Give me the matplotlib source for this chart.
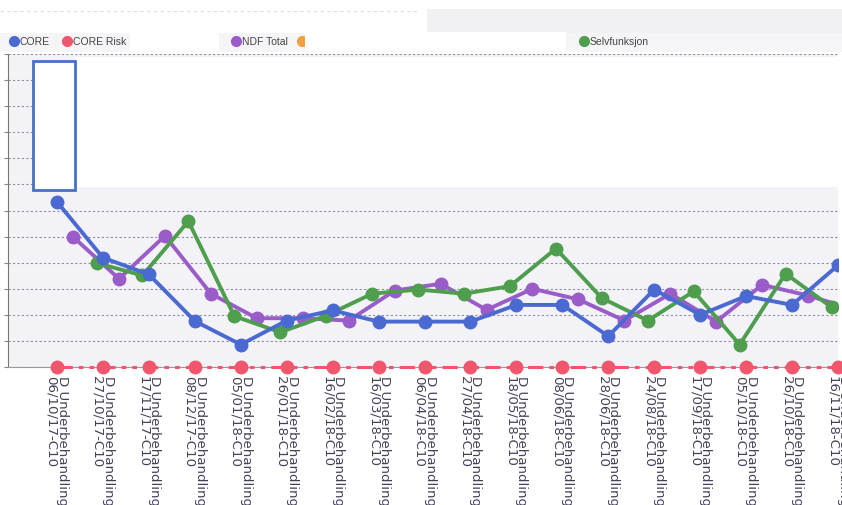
import numpy as np
import matplotlib.pyplot as plt
from matplotlib.patches import Rectangle
from matplotlib.lines import Line2D

# datoer for behandlingene (kategoriaksen)
dates = ['06/10/17', '27/10/17', '17/11/17', '08/12/17', '05/01/18', '26/01/18',
         '16/02/18', '16/03/18', '06/04/18', '27/04/18', '18/05/18', '08/06/18',
         '28/06/18', '24/08/18', '17/09/18', '05/10/18', '26/10/18', '16/11/18']
labels = [f"D Underbehandling\n{d}-C10" for d in dates]

core = [6.33, 4.19, 3.55, 1.76, 0.86, 1.78, 2.17, 1.74, 1.74, 1.74,
        2.38, 2.38, 1.18, 2.97, 2.00, 2.72, 2.38, 3.90]
core_risk = [0] * 18
ndf_total = [4.99, 3.38, 5.03, 2.81, 1.87, 1.87, 1.78, 2.93, 3.19, 2.19,
             3.00, 2.59, 1.78, 2.81, 1.74, 3.15, 2.74, 2.20]
# Selvfunksjon starter ved andre behandling
selv = [3.99, 3.51, 5.59, 1.95, 1.33, 1.97, 2.81, 2.97, 2.81,
        3.10, 4.54, 2.64, 1.78, 2.90, 0.86, 3.58, 2.29]

C_CORE = '#4a6ad2'
C_RISK = '#f0566c'
C_NDF = '#9a5cc8'
C_SELV = '#4e9e4e'

W, H = 842, 506


def px(x, y):
    return x / W, 1 - y / H


fig = plt.figure(figsize=(W / 100, H / 100), dpi=100, facecolor='w')
ax = fig.add_axes([8 / W, 1 - 368 / H, 830 / W, 313 / H])
ax.set_facecolor('#f3f3f7')

idx = np.arange(len(dates))
ax.plot(idx, core, color=C_CORE, lw=2.8, marker='o', ms=9, zorder=4)
ax.plot(idx + 0.35, ndf_total, color=C_NDF, lw=2.8, marker='o', ms=9, zorder=3)
ax.plot(idx[1:] - 0.14, selv, color=C_SELV, lw=2.8, marker='o', ms=9, zorder=3)
ax.plot(idx, core_risk, color=C_RISK, lw=2.2, dashes=(5, 2, 1.5, 2, 1.5, 2),
        marker='o', ms=9, zorder=5, clip_on=False)

ax.set_xlim(-1.067, 17.0)
ax.set_ylim(0, 12)
ax.set_yticks(np.arange(0, 13))
ax.set_yticklabels([])
ax.tick_params(axis='y', length=3, color='#888888')
ax.grid(axis='y', color='#8f8fa0', lw=0.8, ls=(0, (2, 2)))
ax.set_xticks(idx)
ax.set_xticklabels(labels, rotation=-90, fontsize=9.6, color='#45405a',
                   linespacing=0.8, multialignment='left')
ax.tick_params(axis='x', length=0, pad=6)
for s in ['top', 'right']:
    ax.spines[s].set_visible(False)
ax.spines['left'].set_color('#777777')
ax.spines['bottom'].set_color('#999999')

# overdekning (sladding) øverst i plottet
x0, y0 = px(75, 188)
x1, y1 = px(842, 58)
fig.add_artist(Rectangle((x0, y0), x1 - x0, y1 - y0, transform=fig.transFigure,
                         fc='w', ec='none', zorder=2))
x0, y0 = px(33, 191)
x1, y1 = px(75, 62)
fig.add_artist(Rectangle((x0, y0), x1 - x0, y1 - y0, transform=fig.transFigure,
                         fc='w', ec='#4472c4', lw=2, zorder=3))

# topp-bakgrunn og legende
x0, y0 = px(0, 53)
x1, y1 = px(842, 34)
fig.add_artist(Rectangle((x0, y0), x1 - x0, y1 - y0, transform=fig.transFigure,
                         fc='#f5f5f7', ec='none', zorder=1))
x0, y0 = px(427, 34)
x1, y1 = px(842, 10)
fig.add_artist(Rectangle((x0, y0), x1 - x0, y1 - y0, transform=fig.transFigure,
                         fc='#f1f1f4', ec='none', zorder=1))
fig.add_artist(Line2D([0, 419 / W], [1 - 12 / H] * 2, transform=fig.transFigure,
                      color='#dcdce2', lw=0.8, ls=(0, (3, 3))))

legend_items = [('CORE', C_CORE, 14), ('CORE Risk', C_RISK, 67),
                ('NDF Total', C_NDF, 236), ('', '#f0a040', 302),
                ('Selvfunksjon', C_SELV, 584)]
ly = 1 - 42 / H
for name, col, lx in legend_items:
    fig.add_artist(Line2D([lx / W], [ly], transform=fig.transFigure, marker='o',
                          ms=7, color=col, ls='none', zorder=4))
    if name:
        fig.text((lx + 6) / W, ly, name, fontsize=7.5, color='#444444',
                 va='center', ha='left', family='Liberation Sans', zorder=4)

for a, b in [(130, 219), (305, 566)]:
    x0, y0 = px(a, 52)
    x1, y1 = px(b, 33)
    fig.add_artist(Rectangle((x0, y0), x1 - x0, y1 - y0, transform=fig.transFigure,
                             fc='w', ec='none', zorder=5))

fig.savefig('out.png', dpi=100, facecolor='w')
